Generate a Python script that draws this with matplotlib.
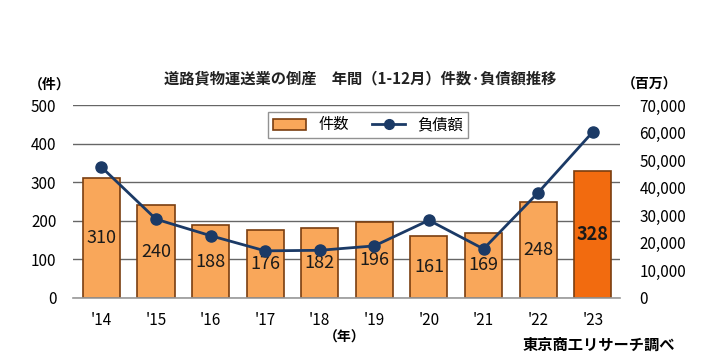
import matplotlib
matplotlib.use("Agg")
import matplotlib.pyplot as plt
from matplotlib.lines import Line2D
from matplotlib.patches import Patch

plt.rcParams['font.family'] = ['Noto Sans CJK JP', 'DejaVu Sans']

years = ["'14", "'15", "'16", "'17", "'18", "'19", "'20", "'21", "'22", "'23"]
cases = [310, 240, 188, 176, 182, 196, 161, 169, 248, 328]
debt = [47500, 28600, 22600, 17100, 17300, 18900, 28200, 17800, 38200, 60200]

left_ticks = [0, 100, 200, 300, 400, 500]
right_ticks = [0, 10000, 20000, 30000, 40000, 50000, 60000, 70000]

bar_color = '#F9A75A'
last_color = '#F26B0F'
edge_color = '#7A3E10'
line_color = '#1B3A66'

fig = plt.figure(figsize=(7.2, 3.63), dpi=100)
fig.patch.set_facecolor('white')
ax = fig.add_axes([73/720, 1-298/363, (620-73)/720, (298-105)/363])
ax.set_facecolor('none')

x = list(range(len(years)))
colors = [bar_color]*(len(years)-1) + [last_color]
ax.bar(x, cases, width=0.68, color=colors, edgecolor=edge_color, linewidth=1.2, zorder=2)
for i, v in enumerate(cases):
    last = i == len(cases)-1
    ax.text(i, v/2, str(v), ha='center', va='center', fontsize=13,
            fontweight='bold' if last else 'normal', color='#1a1a1a', zorder=4)

ax.set_ylim(0, 500)
ax.set_xlim(-0.52, 9.5)
ax.set_yticks(left_ticks)
ax.set_yticklabels([str(t) for t in left_ticks], fontsize=11)
ax.set_xticks(x)
ax.set_xticklabels(years, fontsize=11)
ax.tick_params(axis='both', length=0, pad=10)
ax.tick_params(axis='y', pad=12)
for s in ['top', 'left', 'right']:
    ax.spines[s].set_visible(False)
ax.spines['bottom'].set_color('#999999')
ax.spines['bottom'].set_linewidth(1.2)
ax.yaxis.grid(True, color='#666666', linewidth=1.0, zorder=0)
ax.set_axisbelow(True)

ax2 = ax.twinx()
ax2.plot(x, debt, color=line_color, linewidth=2, marker='o', markersize=8, zorder=5)
ax2.set_ylim(0, 70000)
ax2.set_yticks(right_ticks)
ax2.set_yticklabels([f"{t:,}" for t in right_ticks], fontsize=11)
ax2.tick_params(axis='y', length=0, pad=14)
for s in ax2.spines.values():
    s.set_visible(False)

handles = [Patch(facecolor=bar_color, edgecolor=edge_color, linewidth=1.2),
           Line2D([0], [0], color=line_color, linewidth=2, marker='o', markersize=7)]
leg = fig.legend(handles, ['件数', '負債額'], loc='center', bbox_to_anchor=(368/720, 1-125/363),
                 ncol=2, fontsize=11, frameon=True, fancybox=False, edgecolor='#777777',
                 handlelength=2.2, columnspacing=1.5, borderpad=0.3)
leg.get_frame().set_linewidth(1.0)

fig.text(360/720, 1-78/363, '道路貨物運送業の倒産　年間（1-12月）件数·負債額推移',
         ha='center', va='center', fontsize=11, fontweight='bold', color='#222222')
fig.text(50/720, 1-85/363, '（件）', ha='center', va='center', fontsize=10, fontweight='bold')
fig.text(650/720, 1-85/363, '（百万）', ha='center', va='center', fontsize=10, fontweight='bold')
fig.text(345/720, 1-338/363, '（年）', ha='center', va='center', fontsize=10, fontweight='bold')
fig.text(675/720, 1-345/363, '東京商工リサーチ調べ', ha='right', va='center', fontsize=11, fontweight='bold')

fig.savefig('out.png', dpi=100, facecolor='white')
